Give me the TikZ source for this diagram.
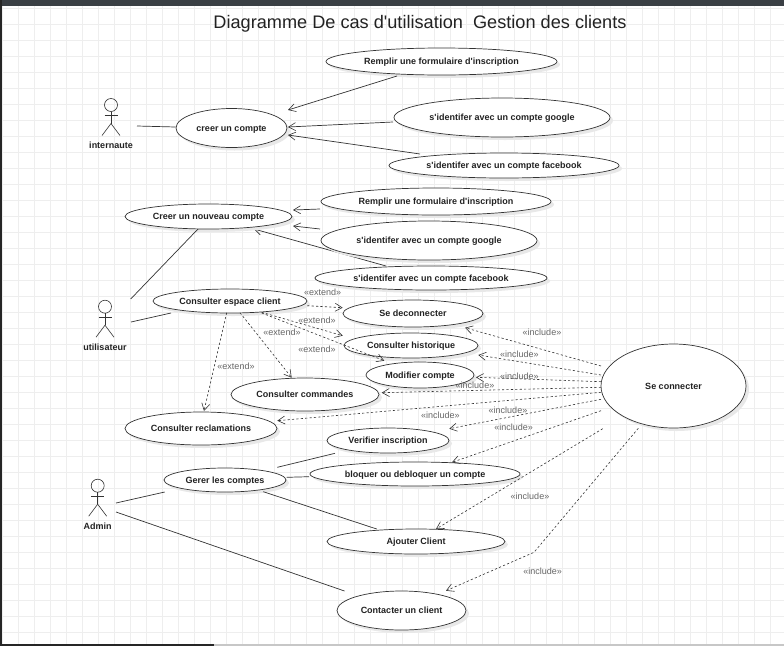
\documentclass[tikz,border=0pt]{standalone}
\usepackage{fontspec}
\defaultfontfeatures[\rmfamily]{Scale=1}
\setmainfont{Liberation Sans}
\usetikzlibrary{shapes.geometric,arrows.meta,calc,shadows,backgrounds}
\definecolor{barcol}{HTML}{3A3F44}
\definecolor{gridcol}{HTML}{EEEEEE}
\definecolor{linecol}{HTML}{333333}
\definecolor{txtcol}{HTML}{222222}
\definecolor{stereo}{HTML}{666666}
\tikzset{
  x=1pt,y=-1pt,
  usecase/.style args={#1/#2}{ellipse,draw=linecol,line width=0.7pt,fill=white,inner sep=0pt,outer sep=0pt,
    minimum width=#1pt,minimum height=#2pt,text=txtcol,font=\fontsize{9}{10}\selectfont\bfseries,
    text height=6.6pt,text depth=0pt,
    drop shadow={shadow xshift=3pt,shadow yshift=-3pt,fill=black!9,opacity=1}},
  assoc/.style={draw=linecol,line width=0.7pt},
  gen/.style={draw=linecol,line width=0.7pt,-{Straight Barb[length=7pt,width=8pt,line width=0.6pt]}},
  dep/.style={draw=linecol,line width=0.6pt,dash pattern=on 2.2pt off 2.2pt,-{Straight Barb[length=7pt,width=8pt,line width=0.6pt]}},
  stereotype/.style={text=stereo,inner sep=0pt,yshift=-0.7pt,font=\fontsize{9}{10}\selectfont},
  actorlabel/.style={text=txtcol,inner sep=0pt,font=\fontsize{9}{10}\selectfont\bfseries},
  actorline/.style={draw=linecol,line width=0.6pt},
  titletext/.style={text=txtcol,inner sep=0pt,font=\fontsize{18.15}{20}\selectfont}
}
\newcommand{\stick}[1]{%
  \draw[actorline] (#1) circle[radius=6.5pt];
  \draw[actorline] ($(#1)+(0,6.5)$) -- ($(#1)+(0,18.5)$);
  \draw[actorline] ($(#1)+(-6.5,10.5)$) -- ($(#1)+(6.5,10.5)$);
  \draw[actorline] ($(#1)+(-9,30.5)$) -- ($(#1)+(0,18.5)$) -- ($(#1)+(9,30.5)$);
}
\begin{document}
\begin{tikzpicture}
\useasboundingbox (0,0) rectangle (784,646);
\begin{scope}[on background layer]
  \fill[white] (0,0) rectangle (784,646);
  \foreach \gx in {2.7,18.7,...,784} {\draw[gridcol,line width=1pt] (\gx,0) -- (\gx,646);}
  \foreach \gy in {8,24,...,646} {\draw[gridcol,line width=1pt] (0,\gy) -- (784,\gy);}
  \fill[barcol] (0,0) rectangle (784,6);
  \fill[black!85] (0,0) rectangle (2,646);
  \fill[black!22] (214,644) rectangle (784,646);
  \fill[black!85] (0,644) rectangle (214,646);
\end{scope}

\node[titletext] (title) at (420,24) {Diagramme De cas d'utilisation\ \ Gestion des clients};

% use cases
\node[usecase=231/27] (ri1) at (441.5,61.5) {Remplir une formulaire d'inscription};
\node[usecase=111/39] (cc) at (231.5,128) {creer un compte};
\node[usecase=216/39] (g1) at (502,117.5) {s'identifer avec un compte google};
\node[usecase=230/25] (f1) at (504,165.5) {s'identifer avec un compte facebook};
\node[usecase=167/25] (cn) at (208.5,216.5) {Creer un nouveau compte};
\node[usecase=230/27] (ri2) at (436,201.5) {Remplir une formulaire d'inscription};
\node[usecase=216/39] (g2) at (429,240.5) {s'identifer avec un compte google};
\node[usecase=232/24] (f2) at (431,278) {s'identifer avec un compte facebook};
\node[usecase=154/24] (ec) at (230,301) {Consulter espace client};
\node[usecase=140/27] (sd) at (413,313.5) {Se deconnecter};
\node[usecase=134/25] (ch) at (411,345.5) {Consulter historique};
\node[usecase=108/26] (mc) at (420,375) {Modifier compte};
\node[usecase=148/33] (cmd) at (305,394.5) {Consulter commandes};
\node[usecase=152/33] (rec) at (201,428.5) {Consulter reclamations};
\node[usecase=122/25] (vi) at (388,440.5) {Verifier inscription};
\node[usecase=122/24] (gc) at (225,480) {Gerer les comptes};
\node[usecase=210/24] (bl) at (415,474) {bloquer ou debloquer un compte};
\node[usecase=178/25] (aj) at (416,541.5) {Ajouter Client};
\node[usecase=129/39] (ct) at (401.5,610.5) {Contacter un client};
\node[usecase=145/84] (sc) at (673.5,386) {Se connecter};

% actors
\coordinate (a1) at (111,105);
\coordinate (a2) at (105,306.7);
\coordinate (a3) at (97.7,485.7);
\stick{a1}\stick{a2}\stick{a3}
\node[actorlabel] (l1) at (111,145) {internaute};
\node[actorlabel] (l2) at (105,347) {utilisateur};
\node[actorlabel] (l3) at (97.7,526) {Admin};

% solid connectors
\draw[assoc] ($(a1)+(26,21)$) -- ($(cc)+(-56,-1)$);
\draw[gen] ($(ri1)+(-44.5,14.5)$) -- ($(cc)+(56.5,-18)$);
\draw[gen] ($(g1)+(-109,4.5)$) -- ($(cc)+(56.5,-1)$);
\draw[gen] ($(f1)+(-84,-11.5)$) -- ($(cc)+(56.5,7)$);
\draw[gen] ($(ri2)+(-116,7.5)$) -- ($(cn)+(84.5,-6.5)$);
\draw[gen] ($(g2)+(-109,-11.5)$) -- ($(cn)+(84.5,9.5)$);
\begin{scope}[on background layer]
  \draw[gen] ($(f2)+(-45,-12)$) -- ($(cn)+(45.5,12.5)$);
\end{scope}
\draw[assoc] ($(a2)+(25.7,-7.7)$) -- ($(cn)+(-10.5,12.5)$);
\draw[assoc] ($(a2)+(26,15.3)$) -- ($(ec)+(-59,12)$);
\draw[assoc] ($(a3)+(18.3,17.3)$) -- ($(gc)+(-60.3,12)$);
\draw[assoc] ($(a3)+(18.3,26.3)$) -- ($(ct)+(-57,-19.5)$);
\draw[assoc] ($(gc)+(52.3,-12.7)$) -- ($(vi)+(-53,12.8)$);
\draw[assoc] ($(gc)+(61.7,-2.7)$) -- ($(bl)+(-106,2.7)$);
\draw[assoc] ($(gc)+(38.3,11.7)$) -- ($(aj)+(-39.3,-12.5)$);

% extend
\draw[dep] ($(ec)+(77.3,4.7)$) -- ($(sd)+(-70.3,-5.8)$);
\draw[dep] ($(ec)+(31.7,11.3)$) -- ($(ch)+(-68.3,-9.8)$);
\draw[dep] ($(ec)+(31.7,12)$) -- ($(mc)+(-35.7,-14.3)$);
\draw[dep] ($(ec)+(10,11.7)$) -- ($(cmd)+(-13.3,-16.8)$);
\draw[dep] ($(ec)+(-3.3,11.7)$) -- ($(rec)+(3,-17.5)$);
\node[stereotype] (e1) at (322.7,291.7) {«extend»};
\node[stereotype] (e2) at (317,319.7) {«extend»};
\node[stereotype] (e3) at (282,331.7) {«extend»};
\node[stereotype] (e4) at (317,348.7) {«extend»};
\node[stereotype] (e5) at (236,365.7) {«extend»};

% include
\draw[dep] ($(sc)+(-72.5,-20)$) -- ($(sd)+(52,14.2)$);
\draw[dep] ($(sc)+(-72.5,-11)$) -- ($(ch)+(67.3,9.5)$);
\draw[dep] ($(sc)+(-72.5,-4.3)$) -- ($(mc)+(56,2.3)$);
\draw[dep] ($(sc)+(-72.5,1.3)$) -- ($(cmd)+(76.7,-1.8)$);
\draw[dep] ($(sc)+(-72.5,6.3)$) -- ($(rec)+(76.3,-7.8)$);
\draw[dep] ($(sc)+(-72.5,13.3)$) -- ($(vi)+(61.3,-11.8)$);
\draw[dep] ($(sc)+(-72.5,24.7)$) -- ($(bl)+(37,-11.7)$);
\draw[dep] ($(sc)+(-70.8,42.7)$) -- ($(aj)+(20,-12.5)$);
\coordinate (bend) at (534,552.3);
\draw[dep] ($(sc)+(-35.2,42.3)$) -- (bend) -- ($(ct)+(44.5,-19.8)$);
\node[stereotype] (i1) at (542,332) {«include»};
\node[stereotype] (i2) at (519.3,353.7) {«include»};
\node[stereotype] (i3) at (519.3,376) {«include»};
\node[stereotype] (i4) at (475,384.7) {«include»};
\node[stereotype] (i5) at (440.3,414.7) {«include»};
\node[stereotype] (i6) at (508,409.7) {«include»};
\node[stereotype] (i7) at (513.7,426.7) {«include»};
\node[stereotype] (i8) at (530,495.7) {«include»};
\node[stereotype] (i9) at (542.7,570.7) {«include»};
\end{tikzpicture}
\end{document}
